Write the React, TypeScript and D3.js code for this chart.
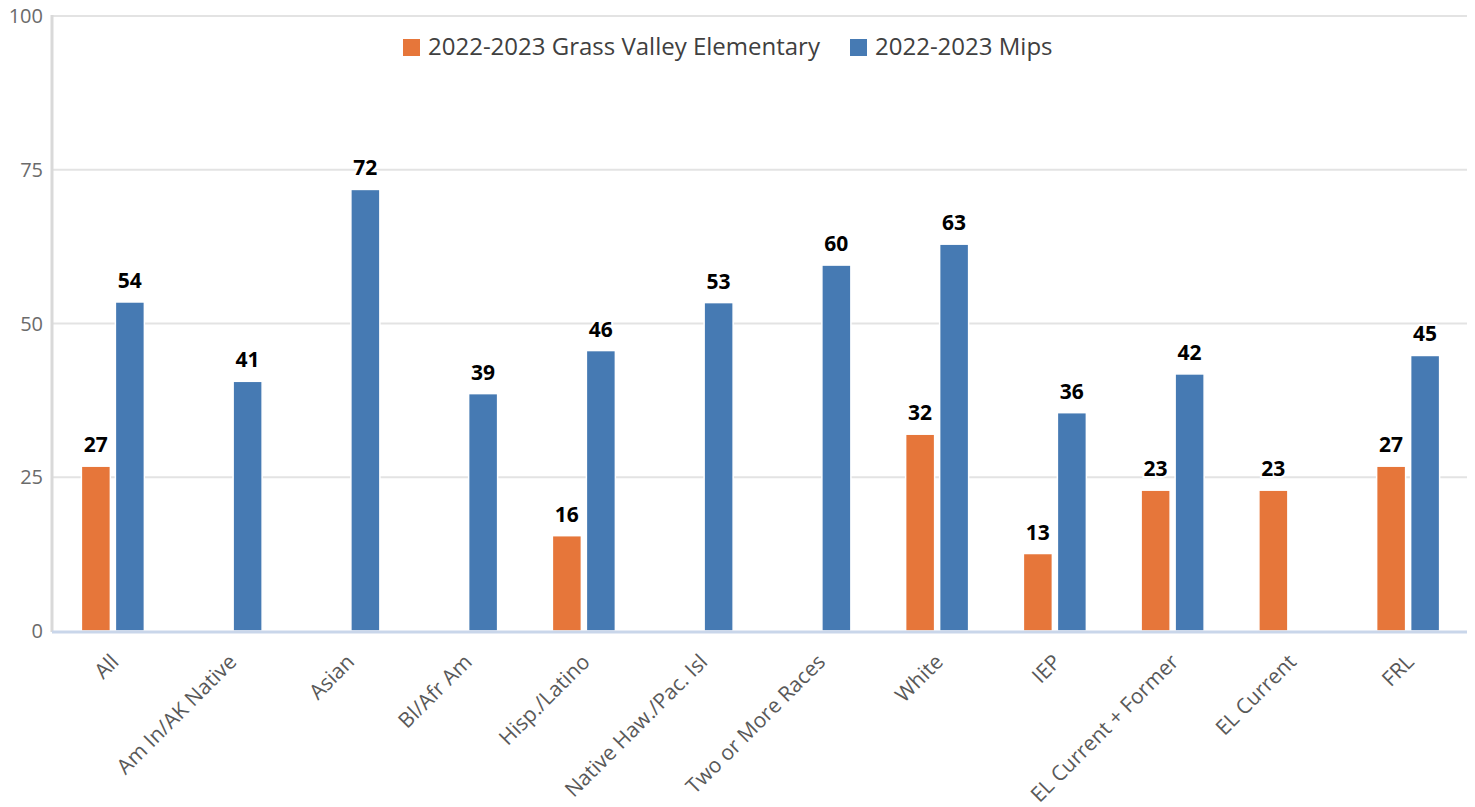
import * as d3 from "d3";

const WIDTH = 1475;
const HEIGHT = 807;
const MARGIN = { top: 16, right: 8, bottom: 176, left: 54 };

// chart values
const categories = [
  "All",
  "Am In/AK Native",
  "Asian",
  "Bl/Afr Am",
  "Hisp./Latino",
  "Native Haw./Pac. Isl",
  "Two or More Races",
  "White",
  "IEP",
  "EL Current + Former",
  "EL Current",
  "FRL",
];
const grassValley: (number | null)[] = [26.8, null, null, null, 15.5, null, null, 32, 12.6, 22.9, 22.9, 26.8];
const mips: (number | null)[] = [53.5, 40.6, 71.8, 38.6, 45.6, 53.4, 59.5, 62.9, 35.5, 41.8, null, 44.8];
const seriesNames = ["2022-2023 Grass Valley Elementary", "2022-2023 Mips"];
const seriesColors = ["#e6763a", "#467ab3"];
const yTicks = [0, 25, 50, 75, 100];

const FONT = "'Open Sans', 'Noto Sans', sans-serif";

export default function App() {
  const boundsWidth = WIDTH - MARGIN.left - MARGIN.right;
  const boundsHeight = HEIGHT - MARGIN.top - MARGIN.bottom;

  const xScale = d3.scaleBand<string>().domain(categories).range([0, boundsWidth]).padding(0);
  const yScale = d3.scaleLinear().domain([0, 100]).range([boundsHeight, 0]);

  const barWidth = 29;
  const barGap = 5;
  const series = [grassValley, mips];

  const bars = series.map((vals, s) =>
    vals.map((v, i) => {
      if (v === null) return null;
      const cx = (xScale(categories[i]) ?? 0) + xScale.bandwidth() / 2;
      const x = s === 0 ? cx - barGap / 2 - barWidth : cx + barGap / 2;
      const y = yScale(v);
      return (
        <g key={`${s}-${i}`}>
          <rect
            x={x}
            y={y}
            width={barWidth}
            height={boundsHeight - y}
            fill={seriesColors[s]}
            stroke="#fff"
            strokeWidth={1.5}
          />
          <text
            x={x + barWidth / 2}
            y={y - 14}
            textAnchor="middle"
            fontSize={21}
            fontWeight={700}
            fill="#000"
            stroke="#fff"
            strokeWidth={4}
            paintOrder="stroke"
          >
            {Math.round(v)}
          </text>
        </g>
      );
    })
  );

  return (
    <svg
      width={WIDTH}
      height={HEIGHT}
      style={{ position: "absolute", left: 0, top: 0, background: "#fff" }}
      fontFamily={FONT}
    >
      <g transform={`translate(${MARGIN.left},${MARGIN.top})`}>
        {/* gridlines */}
        {yTicks
          .filter((t) => t > 0)
          .map((t) => (
            <line
              key={t}
              x1={-2}
              x2={boundsWidth}
              y1={yScale(t)}
              y2={yScale(t)}
              stroke="#e3e3e3"
              strokeWidth={2}
            />
          ))}
        {/* y labels */}
        {yTicks.map((t) => (
          <text
            key={t}
            x={-11}
            y={yScale(t)}
            dy="0.35em"
            textAnchor="end"
            fontSize={20}
            fill="#6b6b6b"
          >
            {t}
          </text>
        ))}
        {/* left axis */}
        <line x1={-2} x2={-2} y1={yScale(100) - 1} y2={boundsHeight + 1} stroke="#d9d9d9" strokeWidth={3} />

        {bars}

        {/* baseline */}
        <line x1={-2} x2={boundsWidth} y1={boundsHeight + 1} y2={boundsHeight + 1} stroke="#c9d6ea" strokeWidth={3} />

        {/* x labels */}
        {categories.map((c) => {
          const cx = (xScale(c) ?? 0) + xScale.bandwidth() / 2;
          return (
            <text
              key={c}
              transform={`translate(${cx + 2},${boundsHeight + 27}) rotate(-45)`}
              textAnchor="end"
              dy="0.35em"
              fontSize={21}
              fill="#595959"
            >
              {c}
            </text>
          );
        })}

        {/* legend */}
        <g transform={`translate(${349},${31})`}>
          <rect x={0} y={-8} width={17} height={17} fill={seriesColors[0]} />
          <text x={25} y={0} dy="0.35em" fontSize={24} fill="#404040">
            {seriesNames[0]}
          </text>
          <rect x={447} y={-8} width={17} height={17} fill={seriesColors[1]} />
          <text x={472} y={0} dy="0.35em" fontSize={24} fill="#404040">
            {seriesNames[1]}
          </text>
        </g>
      </g>
    </svg>
  );
}
